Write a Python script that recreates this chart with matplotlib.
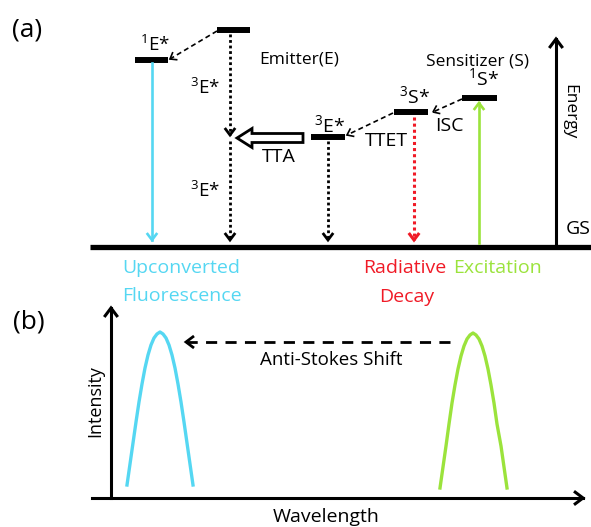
import numpy as np
import matplotlib
matplotlib.use("Agg")
import matplotlib.pyplot as plt
import matplotlib.patches as mpatches

plt.rcParams["font.family"] = ["Open Sans", "DejaVu Sans"]
plt.rcParams["mathtext.fontset"] = "custom"
plt.rcParams["mathtext.rm"] = "Open Sans"
plt.rcParams["mathtext.it"] = "Open Sans"
plt.rcParams["mathtext.default"] = "rm"

# energy levels: (x_start, x_end, y) in picture pixels
levels = {
    "E_high": (217, 250, 30),
    "1E": (135, 168, 60),
    "3E": (311, 345, 137),
    "3S": (394, 428, 112),
    "1S": (462, 497, 98),
}
gs_y = 247

# emission / excitation spectra (panel b)
cyan_x = [127, 130, 133, 136, 139, 142, 145, 148, 151, 154, 157, 160,
          163, 166, 169, 172, 175, 178, 181, 184, 187, 190, 193]
cyan_y = [485, 464, 443, 422, 402, 384, 368, 355, 345, 338, 334, 332,
          334, 338, 345, 355, 368, 384, 402, 422, 443, 464, 485]
green_x = [440, 443, 446, 449, 452, 455, 458, 461, 464, 467, 470, 473,
           476, 479, 482, 485, 488, 491, 494, 497, 501, 504, 507]
green_y = [488, 467, 446, 424, 403, 385, 369, 356, 346, 339, 335, 333,
           335, 339, 346, 356, 369, 385, 403, 424, 446, 467, 488]

CYAN = "#55d7f2"
GREEN = "#9be33c"
RED = "#f01a26"

fig = plt.figure(figsize=(5.91, 5.27), dpi=100)
ax = fig.add_axes([0, 0, 1, 1])
ax.set_xlim(0, 591)
ax.set_ylim(527, 0)
ax.axis("off")


def head(x0, y0, x1, y1, color="black", lw=1.8, size=7):
    # open chevron at (x1, y1) pointing away from (x0, y0)
    d = np.array([x1 - x0, y1 - y0], float)
    d /= np.hypot(*d)
    n = np.array([-d[1], d[0]])
    p = np.array([x1, y1])
    a = p - d * size + n * size * 0.75
    b = p - d * size - n * size * 0.75
    ax.plot([a[0], p[0], b[0]], [a[1], p[1], b[1]], color=color, lw=lw,
            solid_capstyle="butt", solid_joinstyle="miter")


def arrow(x0, y0, x1, y1, color="black", lw=1.8, ls="-", size=7):
    ax.plot([x0, x1], [y0, y1], color=color, lw=lw, ls=ls)
    head(x0, y0, x1, y1, color=color, lw=lw, size=size)


dotted = (0, (1, 1))
dashed = (0, (3, 2))

# levels
for x0, x1, y in levels.values():
    ax.plot([x0, x1], [y, y], color="black", lw=4.3, solid_capstyle="butt")
ax.plot([90, 591], [gs_y, gs_y], color="black", lw=3.8, solid_capstyle="butt")

# emitter
arrow(217, 31, 170, 59, lw=1.2, ls=dashed, size=6)
arrow(230, 34, 230, 135, lw=2.0, ls=dotted)
arrow(230, 141, 230, 240, lw=2.0, ls=dotted)
arrow(152, 63, 152, 240, color=CYAN, lw=1.9)
ax.add_patch(mpatches.FancyArrow(303, 138, -51, 0, width=9, head_width=19,
                                 head_length=15, length_includes_head=False,
                                 fc="white", ec="black", lw=2.0))
arrow(328, 141, 328, 240, lw=2.0, ls=dotted)

# sensitizer
arrow(393, 113, 347, 135, lw=1.2, ls=dashed, size=6)
arrow(462, 99, 433, 112, lw=1.2, ls=dashed, size=6)
arrow(414, 117, 414, 240, color=RED, lw=2.2, ls=dotted)
arrow(479, 243, 479, 103, color=GREEN, lw=1.9)

# energy axis
arrow(556, 244, 556, 39, lw=2.2, size=9)

fs = 12.5
ax.text(27, 30, "(a)", fontsize=19, ha="center", va="center")
ax.text(155, 45, "$^{1}$E*", fontsize=fs + 1, ha="center", va="center")
ax.text(205, 88, "$^{3}$E*", fontsize=fs + 1, ha="center", va="center")
ax.text(205, 191, "$^{3}$E*", fontsize=fs + 1, ha="center", va="center")
ax.text(299, 59, "Emitter(E)", fontsize=fs, ha="center", va="center")
ax.text(279, 157, "TTA", fontsize=fs + 1.5, ha="center", va="center")
ax.text(330, 125, "$^{3}$E*", fontsize=fs + 1.5, ha="center", va="center")
ax.text(386, 141, "TTET", fontsize=fs + 1.5, ha="center", va="center")
ax.text(415, 96, "$^{3}$S*", fontsize=fs + 1.5, ha="center", va="center")
ax.text(449, 126, "ISC", fontsize=fs + 1.5, ha="center", va="center")
ax.text(484, 78, "$^{1}$S*", fontsize=fs + 1.5, ha="center", va="center")
ax.text(477, 61, "Sensitizer (S)", fontsize=fs, ha="center", va="center")
ax.text(569, 112, "Energy", fontsize=fs, ha="center", va="center", rotation=-90)
ax.text(578, 229, "GS", fontsize=fs + 1.5, ha="center", va="center")

fl = 14
ax.text(122, 268, "Upconverted", fontsize=fl, color=CYAN, ha="left", va="center")
ax.text(122, 296, "Fluorescence", fontsize=fl, color=CYAN, ha="left", va="center")
ax.text(405, 268, "Radiative", fontsize=fl, color=RED, ha="center", va="center")
ax.text(407, 297, "Decay", fontsize=fl, color=RED, ha="center", va="center")
ax.text(453, 268, "Excitation", fontsize=fl, color=GREEN, ha="left", va="center")

# panel b
ax.text(29, 322, "(b)", fontsize=19, ha="center", va="center")
arrow(111, 498, 111, 308, lw=2.2, size=9)
arrow(92, 498, 583, 498, lw=2.2, size=9)
ax.plot(cyan_x, cyan_y, color=CYAN, lw=2.4)
ax.plot(green_x, green_y, color=GREEN, lw=2.4)
arrow(450, 342, 186, 342, lw=2.0, ls=(0, (4, 3)), size=8)
ax.text(331, 360, "Anti-Stokes Shift", fontsize=13.5, ha="center", va="center")
ax.text(95, 401, "Intensity", fontsize=13, ha="center", va="center", rotation=90)
ax.text(326, 517, "Wavelength", fontsize=14, ha="center", va="center")

fig.savefig("out.png", dpi=100)
